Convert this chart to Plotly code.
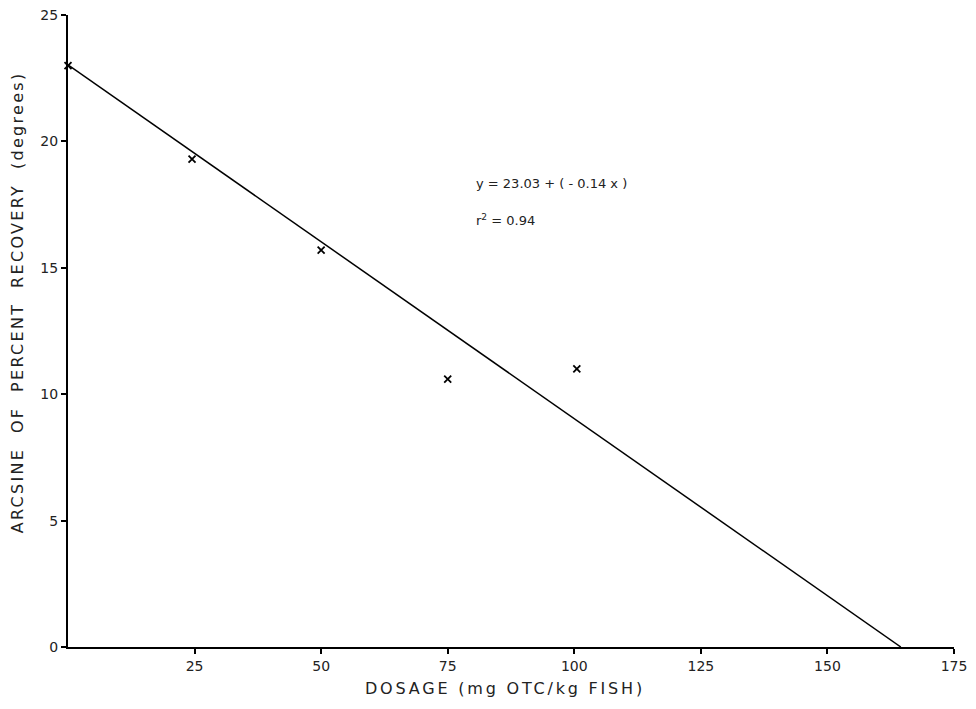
import plotly.graph_objects as go

# Data
dosage = [0, 24.5, 50, 75, 100.5]
arcsine = [23.0, 19.3, 15.7, 10.6, 11.0]
fit_intercept = 23.03
fit_slope = -0.14
x_ticks = [25, 50, 75, 100, 125, 150, 175]
y_ticks = [0, 5, 10, 15, 20, 25]

line_x = [0, -fit_intercept / fit_slope]
line_y = [fit_intercept + fit_slope * v for v in line_x]

FONT = "DejaVu Sans"
TXT = "#222"

fig = go.Figure()
fig.add_trace(go.Scatter(x=line_x, y=line_y, mode="lines",
                         line=dict(color="black", width=1.5),
                         cliponaxis=False, showlegend=False, hoverinfo="skip"))
fig.add_trace(go.Scatter(x=dosage, y=arcsine, mode="markers",
                         marker=dict(symbol="x-thin", size=7, color="black",
                                     line=dict(color="black", width=1.8)),
                         cliponaxis=False, showlegend=False))

fig.update_layout(
    width=968, height=701,
    paper_bgcolor="white", plot_bgcolor="white",
    margin=dict(l=60, r=22, t=7, b=62),
    font=dict(family=FONT, color=TXT, size=14),
    xaxis=dict(range=[0, 175], tickvals=x_ticks, ticktext=[str(v) for v in x_ticks],
               showgrid=False, zeroline=False, showline=True, linecolor="black", linewidth=2,
               ticks="outside", ticklen=5, tickwidth=1.5, tickcolor="black", automargin=False,
               ticklabeloverflow="allow",
               tickfont=dict(family=FONT, size=14, color=TXT)),
    yaxis=dict(range=[0, 25], tickvals=y_ticks, ticktext=[str(v) for v in y_ticks],
               showgrid=False, zeroline=False, showline=True, linecolor="black", linewidth=2,
               ticks="outside", ticklen=5, tickwidth=1.5, tickcolor="black", automargin=False,
               ticklabeloverflow="allow",
               tickfont=dict(family=FONT, size=14, color=TXT)),
    annotations=[
        dict(text='<span style="letter-spacing:2.8px">DOSAGE (mg OTC/kg FISH)</span>',
             xref="paper", yref="paper",
             x=0.493, y=-0.065, xanchor="center", yanchor="middle", showarrow=False,
             font=dict(family=FONT, size=16, color=TXT)),
        dict(text='<span style="letter-spacing:2.3px">ARCSINE  OF  PERCENT  RECOVERY  (degrees)</span>',
             xref="paper", yref="paper",
             x=-0.056, y=0.546, xanchor="center", yanchor="middle", textangle=-90, showarrow=False,
             font=dict(family=FONT, size=16, color=TXT)),
        dict(text="y = 23.03 + ( - 0.14 x )", xref="paper", yref="paper",
             x=0.458, y=0.734, xanchor="left", yanchor="middle", showarrow=False,
             font=dict(family=FONT, size=13, color=TXT)),
        dict(text="r<sup>2</sup> = 0.94", xref="paper", yref="paper",
             x=0.458, y=0.676, xanchor="left", yanchor="middle", showarrow=False,
             font=dict(family=FONT, size=13, color=TXT)),
    ],
)

fig.write_html("out.html")
